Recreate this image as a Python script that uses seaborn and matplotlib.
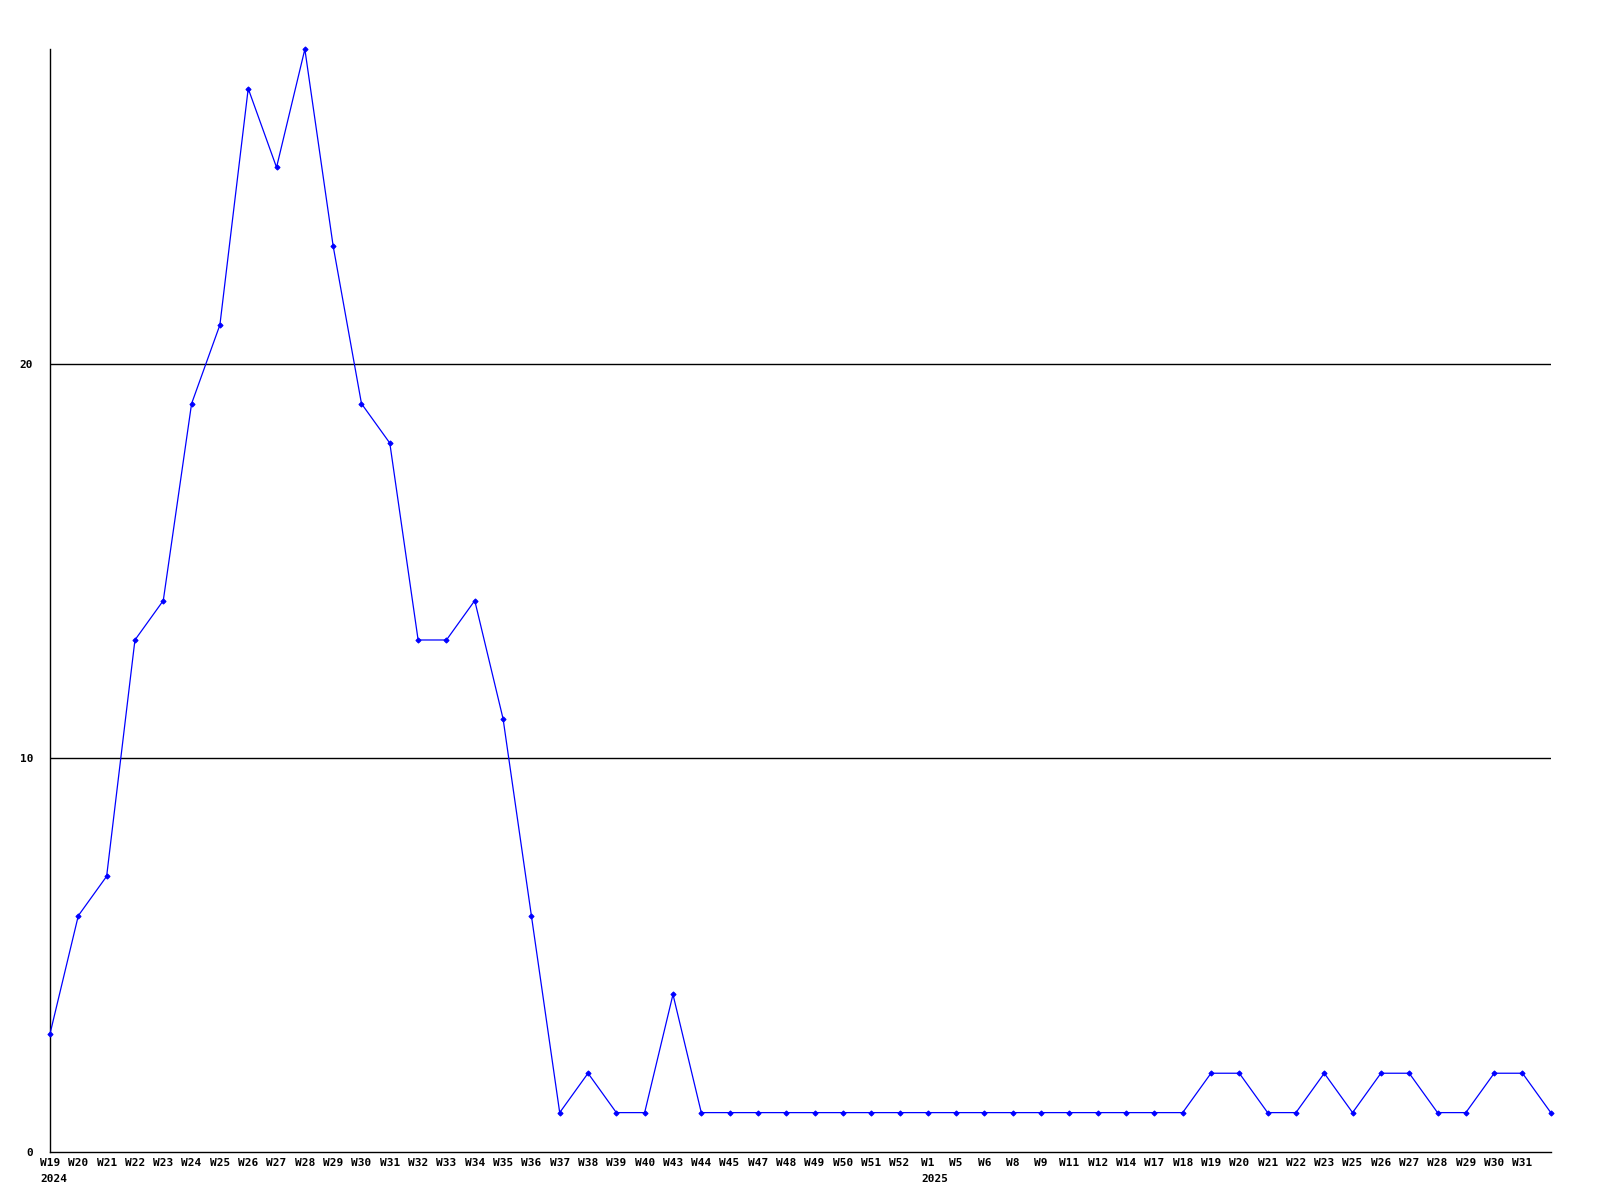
import matplotlib
matplotlib.use("Agg")
import matplotlib.pyplot as plt
import matplotlib.transforms as mtransforms
import seaborn as sns
import pandas as pd

weeks = ["W19", "W20", "W21", "W22", "W23", "W24", "W25", "W26", "W27", "W28",
         "W29", "W30", "W31", "W32", "W33", "W34", "W35", "W36", "W37", "W38",
         "W39", "W40", "W43", "W44", "W45", "W47", "W48", "W49", "W50", "W51",
         "W52", "W1", "W5", "W6", "W8", "W9", "W11", "W12", "W14", "W17",
         "W18", "W19", "W20", "W21", "W22", "W23", "W25", "W26", "W27", "W28",
         "W29", "W30", "W31", ""]
counts = [3, 6, 7, 13, 14, 19, 21, 27, 25, 28,
          23, 19, 18, 13, 13, 14, 11, 6, 1, 2,
          1, 1, 4, 1, 1, 1, 1, 1, 1, 1,
          1, 1, 1, 1, 1, 1, 1, 1, 1, 1,
          1, 2, 2, 1, 1, 2, 1, 2, 2, 1,
          1, 2, 2, 1]
year_labels = ["2024", "2025"]
year_start_idx = [0, 31]
y_ticks = [0, 10, 20]

df = pd.DataFrame({"pos": list(range(len(counts))), "count": counts})

sns.set_theme(style="white")
plt.rcParams["font.family"] = ["DejaVu Sans Mono", "DejaVu Sans"]

fig = plt.figure(figsize=(16, 12), dpi=100)
ax = fig.add_axes([0.03125, 0.04, 0.938, 0.919])

for yv in y_ticks[1:]:
    ax.axhline(yv, color="black", linewidth=1, zorder=1)

sns.lineplot(data=df, x="pos", y="count", ax=ax, color="#0000ff", linewidth=0.9,
             marker="D", markersize=2.6, markeredgecolor="#0000ff", zorder=3,
             clip_on=False)

ax.set_xlim(0, len(counts) - 1)
ax.set_ylim(0, 28)
ax.set_xticks(df["pos"])
ax.set_xticklabels(weeks, fontsize=8, fontweight="bold")
ax.set_yticks(y_ticks)
ax.set_yticklabels([str(v) for v in y_ticks], fontsize=8, fontweight="bold")
ax.tick_params(axis="x", length=0, pad=4, colors="black")
ax.tick_params(axis="y", length=0, pad=12, colors="black")
ax.set_xlabel("")
ax.set_ylabel("")
ax.grid(False)

for s in ["top", "right"]:
    ax.spines[s].set_visible(False)
for s in ["left", "bottom"]:
    ax.spines[s].set_color("black")
    ax.spines[s].set_linewidth(1)

trans = mtransforms.blended_transform_factory(ax.transData, ax.transAxes)
char_w = 0.602 * 8
for lab, i in zip(year_labels, year_start_idx):
    off = -len(weeks[i]) * char_w / 2
    ax.annotate(lab, xy=(i, 0), xycoords=trans, xytext=(off, -16),
                textcoords="offset points", ha="left", va="top",
                fontsize=8, fontweight="bold", color="black",
                annotation_clip=False)

fig.savefig("out.png", dpi=100, facecolor="white")
